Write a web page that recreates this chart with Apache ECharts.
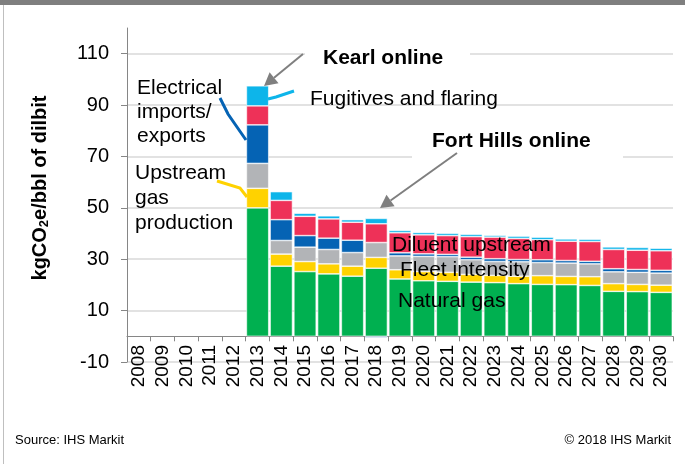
<!DOCTYPE html>
<html>
<head>
<meta charset="utf-8">
<script src="https://cdn.jsdelivr.net/npm/echarts@6/dist/echarts.min.js"></script>
<style>
  html, body { margin: 0; padding: 0; background: #fff; }
  #chart { width: 685px; height: 464px; }
</style>
</head>
<body>
<div id="chart"></div>
<script>
// years on the x axis
const years = ['2008', '2009', '2010', '2011', '2012', '2013', '2014', '2015', '2016', '2017', '2018', '2019',
	'2020', '2021', '2022', '2023', '2024', '2025', '2026', '2027', '2028', '2029', '2030'];
const yTicks = [-10, 10, 30, 50, 70, 90, 110];

// kgCO2e/bbl (stack order bottom -> top)
const naturalGas = [null, null, null, null, null, 50, 27.3, 25.2, 24.3, 23.4, 26.5, 22.3, 21.6, 21.4, 21.1, 20.9, 20.5, 20.2, 20.1, 19.8, 17.5, 17.4, 17.1];
const upstreamGas = [null, null, null, null, null, 7.6, 4.7, 3.9, 3.9, 3.9, 4.2, 3.6, 3.6, 3.5, 3.0, 2.8, 2.9, 3.4, 3.2, 3.4, 3.0, 2.8, 2.8];
const fleetIntensity = [null, null, null, null, null, 9.7, 5.3, 5.6, 5.6, 5.3, 5.8, 5.4, 5.9, 6.1, 5.7, 5.4, 5.6, 5.1, 5.2, 5.0, 4.6, 4.7, 4.7];
const electrical = [null, null, null, null, null, 15, 8.1, 4.5, 4.4, 4.8, -0.5, 1.2, 1.0, 0.9, 1.0, 1.1, 0.9, 1.1, 1.0, 1.0, 1.2, 1.1, 1.1];
const diluent = [null, null, null, null, null, 7.4, 7.5, 7.5, 7.5, 7.0, 7.3, 7.8, 7.4, 7.3, 8.0, 8.4, 8.2, 7.8, 7.5, 7.7, 7.5, 7.5, 7.6];
const fugitives = [null, null, null, null, null, 7.8, 3.4, 1.2, 1.2, 1.0, 2.1, 0.9, 0.9, 0.9, 0.9, 0.7, 0.9, 1.0, 0.9, 0.9, 1.0, 1.1, 1.0];

const FONT = '"Liberation Sans", Arial, sans-serif';

function bar(name, data, color) {
	return {
		name: name,
		type: 'bar',
		stack: 'total',
		data: data,
		barCategoryGap: '6%',
		itemStyle: {
			color: color,
			borderColor: '#ffffff',
			borderWidth: 0.6
		}
	};
}

// gray arrow: line + triangle head
function arrow(x1, y1, x2, y2) {
	const a = Math.atan2(y2 - y1, x2 - x1);
	const L = 13, h = 7;
	const bx = x2 - L * Math.cos(a), by = y2 - L * Math.sin(a);
	return [{
		type: 'line', z: 20,
		shape: { x1: x1, y1: y1, x2: bx, y2: by },
		style: { stroke: '#7f7f7f', lineWidth: 2 }
	}, {
		type: 'polygon', z: 20,
		shape: { points: [[x2, y2], [bx + h * Math.sin(a), by - h * Math.cos(a)], [bx - h * Math.sin(a), by + h * Math.cos(a)]] },
		style: { fill: '#7f7f7f' }
	}];
}

function label(text, x, y, opts) {
	return {
		type: 'text', z: 21, x: x, y: y,
		style: Object.assign({
			text: text, fill: '#000', font: '21px ' + FONT,
			align: 'left', verticalAlign: 'middle', lineHeight: 24
		}, opts || {})
	};
}

function polyline(points, color) {
	return {
		type: 'polyline', z: 20,
		shape: { points: points },
		style: { stroke: color, lineWidth: 3, fill: null }
	};
}

const chart = echarts.init(document.getElementById('chart'));
const option = {
	animation: false,
	grid: { left: 127, right: 12, top: 28, bottom: 102, containLabel: false },
	xAxis: {
		type: 'category',
		data: years,
		axisLine: { onZero: true, lineStyle: { color: '#868686', width: 1 } },
		axisTick: { show: true, length: 5, lineStyle: { color: '#868686' } },
		axisLabel: { rotate: 90, interval: 0, margin: -17, color: '#000', fontSize: 19, fontFamily: FONT }
	},
	yAxis: {
		type: 'value',
		min: -10,
		max: 120,
		interval: 20,
		axisLine: { show: true, lineStyle: { color: '#868686' } },
		axisTick: { show: true, length: 6, customValues: yTicks, lineStyle: { color: '#868686' } },
		axisLabel: { margin: 18, color: '#000', fontSize: 20, fontFamily: FONT, customValues: yTicks },
		splitLine: { show: true, showMinLine: true, lineStyle: { color: '#d9d9d9', width: 1.5 } }
	},
	series: [
		bar('Natural gas', naturalGas, '#00b050'),
		bar('Upstream gas production', upstreamGas, '#ffd200'),
		bar('Fleet intensity', fleetIntensity, '#b2b4b7'),
		bar('Electrical imports/exports', electrical, '#0563b4'),
		bar('Diluent upstream', diluent, '#ee3158'),
		bar('Fugitives and flaring', fugitives, '#0db5ea')
	],
	graphic: [
		// frame
		{ type: 'rect', z: 30, shape: { x: 0, y: 0, width: 685, height: 5 }, style: { fill: '#7f7f7f' } },
		{ type: 'line', z: 30, shape: { x1: 3.5, y1: 5, x2: 3.5, y2: 464 }, style: { stroke: '#bfbfbf', lineWidth: 1 } },
		// y axis title with subscript
		{
			type: 'text', z: 21, x: 40, y: 188, rotation: Math.PI / 2,
			style: {
				text: '{a|kgCO}{s|2}{a|e/bbl of dilbit}',
				align: 'center', verticalAlign: 'middle',
				rich: {
					a: { fontSize: 20, fontWeight: 'bold', fontFamily: FONT, lineHeight: 22, fill: '#000' },
					s: { fontSize: 13, fontWeight: 'bold', fontFamily: FONT, verticalAlign: 'bottom', lineHeight: 14, fill: '#000' }
				}
			}
		},
		// annotation boxes hiding gridlines
		{ type: 'rect', z: 19, shape: { x: 305, y: 42, width: 165, height: 30 }, style: { fill: '#fff' } },
		{ type: 'rect', z: 19, shape: { x: 412, y: 128, width: 211, height: 32 }, style: { fill: '#fff' } },
		label('Kearl online', 323, 58, { font: 'bold 21px ' + FONT }),
		label('Fort Hills online', 432, 141, { font: 'bold 21px ' + FONT }),
		...arrow(303, 54, 264, 86),
		...arrow(457, 153, 380, 208),
		label('Fugitives and flaring', 310, 99),
		polyline([[268, 99], [276, 97], [294, 91]], '#0db5ea'),
		label('Electrical\nimports/\nexports', 137, 112),
		polyline([[220, 98], [228, 114], [246, 140]], '#0563b4'),
		label('Upstream\ngas\nproduction', 135, 198, { lineHeight: 25 }),
		polyline([[217, 181], [240, 188], [247, 197]], '#ffd200'),
		label('Diluent upstream', 392, 245),
		label('Fleet intensity', 400, 270),
		label('Natural gas', 398, 301),
		label('Source: IHS Markit', 15, 440, { font: '13px ' + FONT }),
		label('\u00a9 2018 IHS Markit', 671, 440, { font: '13px ' + FONT, align: 'right' })
	]
};
chart.setOption(option);
</script>
</body>
</html>
